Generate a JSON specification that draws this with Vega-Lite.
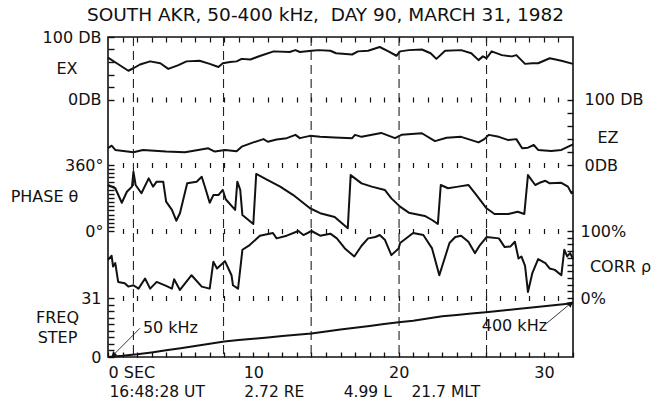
{
  "$schema": "https://vega.github.io/schema/vega-lite/v6.json",
  "width": 465,
  "height": 320,
  "autosize": {"type": "none"},
  "padding": {"left": 108, "top": 37, "right": 95, "bottom": 43},
  "background": "white",
  "title": {
    "text": "SOUTH AKR, 50-400 kHz,\u00a0 DAY 90, MARCH 31, 1982",
    "font": "DejaVu Sans",
    "fontSize": 18.5,
    "fontWeight": "normal",
    "color": "#111",
    "dx": -15,
    "dy": 3,
    "offset": 8
  },
  "config": {
    "view": {"stroke": "#111", "strokeWidth": 1.6},
    "axis": {
      "domain": false,
      "grid": false,
      "labelFont": "DejaVu Sans",
      "labelFontSize": 16,
      "labelColor": "#111",
      "labelOverlap": false,
      "tickColor": "#111",
      "tickWidth": 1.2,
      "titleFont": "DejaVu Sans",
      "titleFontSize": 16,
      "titleFontWeight": "normal",
      "titleColor": "#111"
    },
    "line": {"stroke": "#111", "strokeWidth": 2, "strokeJoin": "round"}
  },
  "datasets": {
    "ex": [
      {"t": 0, "v": 67}, {"t": 0.6, "v": 58}, {"t": 1.4, "v": 46}, {"t": 1.75, "v": 50},
      {"t": 2.2, "v": 56}, {"t": 2.9, "v": 61}, {"t": 3.6, "v": 58}, {"t": 4.15, "v": 49},
      {"t": 4.85, "v": 55}, {"t": 5.4, "v": 61}, {"t": 6.3, "v": 62}, {"t": 7.0, "v": 57},
      {"t": 7.6, "v": 52}, {"t": 7.9, "v": 58}, {"t": 8.4, "v": 60}, {"t": 8.85, "v": 61},
      {"t": 9.2, "v": 65}, {"t": 9.8, "v": 64}, {"t": 10.5, "v": 70}, {"t": 11.4, "v": 77},
      {"t": 12.5, "v": 76}, {"t": 12.9, "v": 79}, {"t": 13.2, "v": 76}, {"t": 14.0, "v": 78},
      {"t": 14.5, "v": 79}, {"t": 15.3, "v": 78}, {"t": 15.7, "v": 74}, {"t": 16.8, "v": 72},
      {"t": 17.2, "v": 77}, {"t": 17.9, "v": 78}, {"t": 18.7, "v": 84}, {"t": 19.3, "v": 77},
      {"t": 19.85, "v": 70}, {"t": 20.1, "v": 77}, {"t": 20.7, "v": 79}, {"t": 21.6, "v": 80},
      {"t": 22.2, "v": 74}, {"t": 22.6, "v": 65}, {"t": 23.2, "v": 78}, {"t": 24.3, "v": 79},
      {"t": 25.0, "v": 74}, {"t": 25.5, "v": 63}, {"t": 25.8, "v": 69}, {"t": 26.05, "v": 66},
      {"t": 26.4, "v": 77}, {"t": 27.1, "v": 71}, {"t": 27.8, "v": 69}, {"t": 28.1, "v": 71},
      {"t": 28.7, "v": 57}, {"t": 29.2, "v": 58}, {"t": 29.6, "v": 58}, {"t": 30.4, "v": 66},
      {"t": 31.2, "v": 62}, {"t": 32, "v": 57}
    ],
    "ez": [
      {"t": 0, "v": 25.5}, {"t": 0.25, "v": 29.5}, {"t": 0.5, "v": 23}, {"t": 1.75, "v": 19.5},
      {"t": 2.4, "v": 23}, {"t": 4.0, "v": 20.5}, {"t": 5.3, "v": 19.5}, {"t": 6.2, "v": 23},
      {"t": 6.9, "v": 25.5}, {"t": 7.35, "v": 20.5}, {"t": 8.05, "v": 23}, {"t": 8.85, "v": 21},
      {"t": 9.2, "v": 28}, {"t": 10.0, "v": 34.5}, {"t": 10.7, "v": 39.5}, {"t": 11.0, "v": 35.5},
      {"t": 11.6, "v": 39}, {"t": 12.3, "v": 41}, {"t": 12.9, "v": 46}, {"t": 13.2, "v": 41},
      {"t": 13.9, "v": 44.5}, {"t": 14.6, "v": 43}, {"t": 15.6, "v": 42}, {"t": 16.8, "v": 41},
      {"t": 17.0, "v": 46}, {"t": 17.45, "v": 43}, {"t": 18.8, "v": 49}, {"t": 19.75, "v": 41},
      {"t": 20.2, "v": 46}, {"t": 21.6, "v": 48.5}, {"t": 22.5, "v": 36.5}, {"t": 23.3, "v": 41.5},
      {"t": 24.3, "v": 43}, {"t": 25.5, "v": 34.5}, {"t": 25.9, "v": 39.5}, {"t": 26.2, "v": 46},
      {"t": 26.9, "v": 43}, {"t": 27.55, "v": 38}, {"t": 28.1, "v": 39.5}, {"t": 28.5, "v": 25.5},
      {"t": 28.9, "v": 26.5}, {"t": 29.3, "v": 30.5}, {"t": 29.6, "v": 23}, {"t": 30.5, "v": 21.5},
      {"t": 31.2, "v": 23}, {"t": 32, "v": 31.5}
    ],
    "phase": [
      {"t": 0, "v": 251}, {"t": 0.5, "v": 233}, {"t": 0.95, "v": 154}, {"t": 1.3, "v": 214},
      {"t": 1.65, "v": 242}, {"t": 1.75, "v": 323}, {"t": 1.9, "v": 251}, {"t": 2.3, "v": 206},
      {"t": 2.8, "v": 287}, {"t": 3.1, "v": 242}, {"t": 3.35, "v": 269}, {"t": 3.8, "v": 269},
      {"t": 4.0, "v": 160}, {"t": 4.4, "v": 115}, {"t": 4.7, "v": 56}, {"t": 4.95, "v": 97},
      {"t": 5.45, "v": 260}, {"t": 6.1, "v": 269}, {"t": 6.45, "v": 296}, {"t": 6.7, "v": 233},
      {"t": 7.0, "v": 154}, {"t": 7.25, "v": 196}, {"t": 7.6, "v": 196}, {"t": 7.9, "v": 224},
      {"t": 8.1, "v": 173}, {"t": 8.75, "v": 115}, {"t": 8.9, "v": 269}, {"t": 9.1, "v": 224},
      {"t": 9.25, "v": 87}, {"t": 10.0, "v": 38}, {"t": 10.2, "v": 311}, {"t": 10.9, "v": 282},
      {"t": 11.85, "v": 242}, {"t": 12.75, "v": 196}, {"t": 13.9, "v": 124}, {"t": 14.6, "v": 97},
      {"t": 15.6, "v": 76}, {"t": 16.5, "v": 15}, {"t": 16.7, "v": 305}, {"t": 17.45, "v": 260},
      {"t": 18.15, "v": 242}, {"t": 19.05, "v": 224}, {"t": 19.5, "v": 178}, {"t": 20.1, "v": 133},
      {"t": 20.7, "v": 100}, {"t": 21.8, "v": 82}, {"t": 22.3, "v": 60}, {"t": 22.7, "v": 38},
      {"t": 22.9, "v": 251}, {"t": 23.4, "v": 233}, {"t": 24.1, "v": 242}, {"t": 24.8, "v": 251},
      {"t": 25.25, "v": 206}, {"t": 26.05, "v": 124}, {"t": 26.6, "v": 93}, {"t": 27.55, "v": 93},
      {"t": 28.2, "v": 105}, {"t": 28.65, "v": 93}, {"t": 28.9, "v": 305}, {"t": 29.4, "v": 251},
      {"t": 29.7, "v": 263}, {"t": 30.1, "v": 274}, {"t": 30.4, "v": 260}, {"t": 31.2, "v": 263},
      {"t": 31.65, "v": 242}, {"t": 31.9, "v": 206}, {"t": 32, "v": 215}
    ],
    "corr": [
      {"t": 0, "v": 57}, {"t": 0.25, "v": 63}, {"t": 0.35, "v": 47}, {"t": 0.5, "v": 52},
      {"t": 0.7, "v": 24}, {"t": 1.15, "v": 22}, {"t": 1.4, "v": 17}, {"t": 1.75, "v": 19},
      {"t": 2.1, "v": 14}, {"t": 2.55, "v": 29}, {"t": 2.9, "v": 14}, {"t": 3.35, "v": 24},
      {"t": 4.0, "v": 18}, {"t": 4.4, "v": 14}, {"t": 4.55, "v": 28}, {"t": 4.95, "v": 12},
      {"t": 5.75, "v": 34}, {"t": 6.45, "v": 17}, {"t": 7.0, "v": 14}, {"t": 7.25, "v": 54},
      {"t": 7.5, "v": 44}, {"t": 8.05, "v": 55}, {"t": 8.5, "v": 34}, {"t": 8.6, "v": 19},
      {"t": 8.95, "v": 14}, {"t": 9.25, "v": 72}, {"t": 9.75, "v": 79}, {"t": 10.45, "v": 93},
      {"t": 11.35, "v": 97}, {"t": 11.6, "v": 89}, {"t": 12.3, "v": 93}, {"t": 13.1, "v": 100},
      {"t": 13.45, "v": 94}, {"t": 14.0, "v": 100}, {"t": 14.6, "v": 93}, {"t": 15.3, "v": 96},
      {"t": 15.75, "v": 89}, {"t": 16.3, "v": 74}, {"t": 16.95, "v": 62}, {"t": 17.45, "v": 78},
      {"t": 17.9, "v": 89}, {"t": 18.4, "v": 91}, {"t": 18.7, "v": 94}, {"t": 19.05, "v": 87},
      {"t": 19.5, "v": 64}, {"t": 20.0, "v": 74}, {"t": 20.1, "v": 82}, {"t": 21.0, "v": 97},
      {"t": 21.7, "v": 94}, {"t": 22.3, "v": 74}, {"t": 22.8, "v": 34}, {"t": 23.5, "v": 82},
      {"t": 23.9, "v": 91}, {"t": 24.3, "v": 93}, {"t": 24.8, "v": 84}, {"t": 25.25, "v": 67},
      {"t": 25.6, "v": 79}, {"t": 26.05, "v": 91}, {"t": 26.9, "v": 89}, {"t": 27.3, "v": 76},
      {"t": 27.7, "v": 77}, {"t": 28.0, "v": 84}, {"t": 28.25, "v": 59}, {"t": 28.45, "v": 62},
      {"t": 28.7, "v": 48}, {"t": 28.9, "v": 9}, {"t": 29.2, "v": 37}, {"t": 29.6, "v": 58},
      {"t": 30.1, "v": 52}, {"t": 30.4, "v": 44}, {"t": 30.75, "v": 42}, {"t": 31.2, "v": 34},
      {"t": 31.4, "v": 72}, {"t": 31.6, "v": 62}, {"t": 31.8, "v": 67}, {"t": 32, "v": 58}
    ],
    "freq": [
      {"t": 0, "v": 0}, {"t": 1, "v": 0.6}, {"t": 2, "v": 1.4}, {"t": 3, "v": 2.4},
      {"t": 4, "v": 3.5}, {"t": 5, "v": 4.6}, {"t": 6, "v": 5.8}, {"t": 7, "v": 7.0},
      {"t": 8, "v": 8.1}, {"t": 9, "v": 8.9}, {"t": 10, "v": 9.6}, {"t": 11, "v": 10.3},
      {"t": 12, "v": 11.0}, {"t": 13, "v": 11.7}, {"t": 14, "v": 12.4}, {"t": 15, "v": 13.4},
      {"t": 16, "v": 14.4}, {"t": 17, "v": 15.4}, {"t": 18, "v": 16.3}, {"t": 19, "v": 17.3},
      {"t": 20, "v": 18.2}, {"t": 21, "v": 19.1}, {"t": 22, "v": 20.2}, {"t": 23, "v": 21.4},
      {"t": 24, "v": 22.1}, {"t": 25, "v": 22.8}, {"t": 26, "v": 23.5}, {"t": 27, "v": 24.3},
      {"t": 28, "v": 25.1}, {"t": 29, "v": 25.9}, {"t": 30, "v": 26.7}, {"t": 31, "v": 27.5},
      {"t": 32, "v": 28.3}
    ],
    "markers": [{"t": 1.75}, {"t": 7.95}, {"t": 13.98}, {"t": 20.03}, {"t": 26.05}],
    "leaders": [
      {"label": "50 kHz", "t": 0.37, "f": 1.05, "t2": 2.2, "f2": 15.1},
      {"label": "400 kHz", "t": 31.84, "f": 28.2, "t2": 30.19, "f2": 17.7}
    ],
    "notes": [
      {"label": "50 kHz", "t": 2.4, "f": 15.4},
      {"label": "400 kHz", "t": 25.72, "f": 16.3}
    ]
  },
  "resolve": {
    "scale": {"y": "independent"},
    "axis": {"x": "independent", "y": "independent"}
  },
  "layer": [
    {
      "data": {"name": "ex"},
      "mark": {"type": "line"},
      "encoding": {
        "x": {
          "field": "t", "type": "quantitative",
          "scale": {"domain": [0, 32], "nice": false, "zero": false},
          "axis": {"orient": "top", "values": [1,2,3,4,5,6,7,8,9,10,11,12,13,14,15,16,17,18,19,20,21,22,23,24,25,26,27,28,29,30,31], "tickSize": -5, "labels": false, "title": null}
        },
        "y": {
          "field": "v", "type": "quantitative",
          "scale": {"domain": [0, 100], "range": [62.5, 0], "nice": false, "zero": false},
          "axis": {
            "orient": "left",
            "values": [0, 20, 40, 60, 80, 100],
            "ticks": true, "tickSize": -6, "tickColor": "#111", "tickWidth": 1.4,
            "labelPadding": 13,
            "labelExpr": "datum.value === 100 ? '100 DB' : (datum.value === 0 ? '0DB' : '')",
            "title": "EX", "titleAngle": 0, "titleAlign": "center", "titleBaseline": "middle",
            "titleX": -41.5, "titleY": 31
          }
        }
      }
    },
    {
      "data": {"name": "ez"},
      "mark": {"type": "line"},
      "encoding": {
        "x": {
          "field": "t", "type": "quantitative",
          "scale": {"domain": [0, 32], "nice": false, "zero": false},
          "axis": {"orient": "bottom", "offset": -260, "values": [1,2,3,4,5,6,7,8,9,10,11,12,13,14,15,16,17,18,19,20,21,22,23,24,25,26,27,28,29,30,31], "tickSize": 5, "labels": false, "title": null}
        },
        "y": {
          "field": "v", "type": "quantitative",
          "scale": {"domain": [0, 100], "range": [128, 62.5], "nice": false, "zero": false},
          "axis": {
            "orient": "right",
            "values": [0, 20, 40, 60, 80, 100],
            "ticks": true, "tickSize": -6, "tickColor": "#111", "tickWidth": 1.4,
            "labelPadding": 17,
            "labelExpr": "datum.value === 100 ? '100 DB' : (datum.value === 0 ? '0DB' : '')",
            "title": "EZ", "titleAngle": 0, "titleAlign": "center", "titleBaseline": "middle",
            "titleX": 34.5, "titleY": 100.5
          }
        }
      }
    },
    {
      "data": {"name": "phase"},
      "mark": {"type": "line"},
      "encoding": {
        "x": {
          "field": "t", "type": "quantitative",
          "scale": {"domain": [0, 32], "nice": false, "zero": false},
          "axis": {"orient": "bottom", "offset": -194.5, "values": [1,2,3,4,5,6,7,8,9,10,11,12,13,14,15,16,17,18,19,20,21,22,23,24,25,26,27,28,29,30,31], "tickSize": 5, "labels": false, "title": null}
        },
        "y": {
          "field": "v", "type": "quantitative",
          "scale": {"domain": [0, 360], "range": [194, 128], "nice": false, "zero": false},
          "axis": {
            "orient": "left",
            "values": [0, 22.5, 45, 67.5, 90, 112.5, 135, 157.5, 180, 202.5, 225, 247.5, 270, 292.5, 315, 337.5, 360],
            "ticks": true, "tickSize": -6, "tickColor": "#111", "tickWidth": 1.4,
            "labelPadding": 11,
            "labelExpr": "datum.value === 360 ? '360°' : (datum.value === 0 ? '0°' : '')",
            "title": "PHASE θ", "titleAngle": 0, "titleAlign": "center", "titleBaseline": "middle",
            "titleX": -64, "titleY": 159.5
          }
        }
      }
    },
    {
      "data": {"name": "corr"},
      "mark": {"type": "line"},
      "encoding": {
        "x": {
          "field": "t", "type": "quantitative",
          "scale": {"domain": [0, 32], "nice": false, "zero": false},
          "axis": {"orient": "bottom", "offset": -128.5, "values": [1,2,3,4,5,6,7,8,9,10,11,12,13,14,15,16,17,18,19,20,21,22,23,24,25,26,27,28,29,30,31], "tickSize": 5, "labels": false, "title": null}
        },
        "y": {
          "field": "v", "type": "quantitative",
          "scale": {"domain": [0, 100], "range": [261, 194], "nice": false, "zero": false},
          "axis": {
            "orient": "right",
            "values": [0, 10, 20, 30, 40, 50, 60, 70, 80, 90, 100],
            "ticks": true, "tickSize": -6, "tickColor": "#111", "tickWidth": 1.4,
            "labelPadding": 13,
            "labelExpr": "datum.value === 100 ? '100%' : (datum.value === 0 ? '0%' : '')",
            "title": "CORR ρ", "titleAngle": 0, "titleAlign": "center", "titleBaseline": "middle",
            "titleX": 47, "titleY": 229
          }
        }
      }
    },
    {
      "data": {"name": "markers"},
      "mark": {"type": "rule", "color": "#222", "strokeWidth": 1.1, "strokeDash": [9, 5]},
      "encoding": {
        "x": {
          "field": "t", "type": "quantitative",
          "scale": {"domain": [0, 32], "nice": false, "zero": false},
          "axis": {"orient": "bottom", "offset": -61.5, "values": [1,2,3,4,5,6,7,8,9,10,11,12,13,14,15,16,17,18,19,20,21,22,23,24,25,26,27,28,29,30,31], "tickSize": 5, "labels": false, "title": null}
        }
      }
    },
    {
      "data": {"name": "freq"},
      "mark": {"type": "line"},
      "encoding": {
        "x": {
          "field": "t", "type": "quantitative",
          "scale": {"domain": [0, 32], "nice": false, "zero": false},
          "axis": {
            "orient": "bottom",
            "values": [0,1,2,3,4,5,6,7,8,9,10,11,12,13,14,15,16,17,18,19,20,21,22,23,24,25,26,27,28,29,30,31,32],
            "ticks": true, "tickSize": -5, "tickColor": "#111", "tickWidth": 1.3,
            "labelPadding": 12,
            "labelFlush": true,
            "labelExpr": "datum.value === 0 ? '0 SEC' : (datum.value % 10 === 0 ? datum.label : '')",
            "title": "16:48:28 UT\u00a0\u00a0\u00a0\u00a0\u00a0\u00a0\u00a0\u00a02.72 RE\u00a0\u00a0\u00a0\u00a0\u00a0\u00a0\u00a0\u00a04.99 L\u00a0\u00a0\u00a0\u00a021.7 MLT",
            "titleFontSize": 15.5,
            "titleAlign": "left", "titleBaseline": "middle",
            "titleX": 1, "titleY": 34
          }
        },
        "y": {
          "field": "v", "type": "quantitative",
          "scale": {"domain": [0, 31], "range": [320, 261], "nice": false, "zero": false},
          "axis": {
            "orient": "left",
            "values": [0, 3.44, 6.89, 10.33, 13.78, 17.22, 20.67, 24.11, 27.56, 31],
            "ticks": true, "tickSize": -6, "tickColor": "#111", "tickWidth": 1.4,
            "labelPadding": 13,
            "labelExpr": "datum.value === 31 ? '31' : (datum.value === 0 ? '0' : '')",
            "title": ["FREQ", "STEP"], "titleLineHeight": 20, "titleAngle": 0, "titleAlign": "center", "titleBaseline": "middle",
            "titleX": -51, "titleY": 280.5
          }
        }
      }
    },
    {
      "data": {"name": "leaders"},
      "mark": {"type": "rule", "color": "#222", "strokeWidth": 0.9},
      "encoding": {
        "x": {"field": "t", "type": "quantitative", "scale": {"domain": [0, 32], "nice": false, "zero": false}, "axis": null},
        "x2": {"field": "t2"},
        "y": {"field": "f", "type": "quantitative", "scale": {"domain": [0, 31], "range": [320, 261], "nice": false, "zero": false}, "axis": null},
        "y2": {"field": "f2"}
      }
    },
    {
      "data": {"name": "leaders"},
      "transform": [{"filter": "datum.label === '400 kHz'"}],
      "mark": {"type": "point", "shape": "triangle-up", "filled": true, "size": 45, "angle": 50, "color": "#111", "opacity": 1},
      "encoding": {
        "x": {"field": "t", "type": "quantitative", "scale": {"domain": [0, 32], "nice": false, "zero": false}, "axis": null},
        "y": {"field": "f", "type": "quantitative", "scale": {"domain": [0, 31], "range": [320, 261], "nice": false, "zero": false}, "axis": null}
      }
    },
    {
      "data": {"name": "leaders"},
      "transform": [{"filter": "datum.label === '50 kHz'"}],
      "mark": {"type": "point", "shape": "triangle-up", "filled": true, "size": 35, "angle": 225, "color": "#111", "opacity": 1},
      "encoding": {
        "x": {"field": "t", "type": "quantitative", "scale": {"domain": [0, 32], "nice": false, "zero": false}, "axis": null},
        "y": {"field": "f", "type": "quantitative", "scale": {"domain": [0, 31], "range": [320, 261], "nice": false, "zero": false}, "axis": null}
      }
    },
    {
      "data": {"name": "notes"},
      "mark": {"type": "text", "align": "left", "baseline": "middle", "font": "DejaVu Sans", "fontSize": 16, "color": "#111"},
      "encoding": {
        "x": {"field": "t", "type": "quantitative", "scale": {"domain": [0, 32], "nice": false, "zero": false}, "axis": null},
        "y": {"field": "f", "type": "quantitative", "scale": {"domain": [0, 31], "range": [320, 261], "nice": false, "zero": false}, "axis": null},
        "text": {"field": "label"}
      }
    }
  ]
}
